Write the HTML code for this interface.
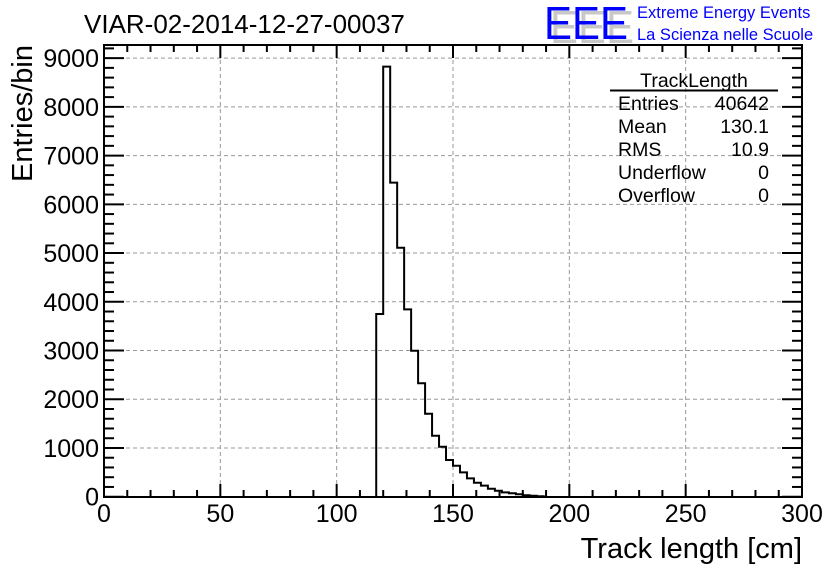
<!DOCTYPE html>
<html><head><meta charset="utf-8"><style>
html,body{margin:0;padding:0;background:#fff;}
svg{display:block;font-family:"Liberation Sans",Arial,sans-serif;}
</style></head><body>
<svg id="s" width="836" height="572" viewBox="0 0 836 572" xmlns="http://www.w3.org/2000/svg">
<rect width="836" height="572" fill="#fff"/>
<g id="grid" stroke="#999" stroke-width="1" stroke-dasharray="4,3"></g>
<g id="stats" font-size="19.5" fill="#000">
<text x="694" y="87" text-anchor="middle">TrackLength</text>
<line x1="610" y1="90.5" x2="778" y2="90.5" stroke="#000" stroke-width="2"/>
<text x="618" y="110">Entries</text><text x="769" y="110" text-anchor="end">40642</text>
<text x="618" y="133">Mean</text><text x="769" y="133" text-anchor="end">130.1</text>
<text x="618" y="156">RMS</text><text x="769" y="156" text-anchor="end">10.9</text>
<text x="618" y="179">Underflow</text><text x="769" y="179" text-anchor="end">0</text>
<text x="618" y="202">Overflow</text><text x="769" y="202" text-anchor="end">0</text>
</g>
<path id="hist" fill="none" stroke="#000" stroke-width="2"/>
<g id="ticks" stroke="#000" stroke-width="2"></g>
<rect x="104" y="45" width="698" height="452" fill="none" stroke="#000" stroke-width="2"/>
<g id="labels" font-size="25" fill="#000"></g>
<text x="84" y="33" font-size="26">VIAR-02-2014-12-27-00037</text>
<text x="550" y="43" font-size="46" fill="#c8c8c8" textLength="84" lengthAdjust="spacingAndGlyphs">EEE</text>
<text x="544" y="39" font-size="46" fill="#0000ff" textLength="84" lengthAdjust="spacingAndGlyphs">EEE</text>
<text x="637" y="18" font-size="16.5" fill="#0000ff">Extreme Energy Events</text>
<text x="637" y="40" font-size="16.5" fill="#0000ff">La Scienza nelle Scuole</text>
<text x="802" y="558" font-size="29" text-anchor="end">Track length [cm]</text>
<text transform="translate(32,45) rotate(-90)" font-size="29" text-anchor="end">Entries/bin</text>
</svg>
<script>
var NS="http://www.w3.org/2000/svg";
function X(v){return 104+v*698/300;}
function Y(v){return 496.7-v*0.04873;}
function el(p,t,a,txt){var e=document.createElementNS(NS,t);for(var k in a)e.setAttribute(k,a[k]);if(txt!==undefined)e.textContent=txt;document.getElementById(p).appendChild(e);}
for(var v=50;v<300;v+=50)el("grid","line",{x1:X(v),y1:46,x2:X(v),y2:496});
for(var v=1000;v<=9000;v+=1000)el("grid","line",{x1:105,y1:Y(v),x2:801,y2:Y(v)});
for(var v=0;v<=300;v+=10){var L=(v%50==0)?13:7;
 el("ticks","line",{x1:X(v),y1:497,x2:X(v),y2:497-L});
 el("ticks","line",{x1:X(v),y1:45,x2:X(v),y2:45+L});}
for(var v=0;v<=9200;v+=200){var y=Y(v);if(y<45)break;var L=(v%1000==0)?20:10;
 el("ticks","line",{x1:104,y1:y,x2:104+L,y2:y});
 el("ticks","line",{x1:802,y1:y,x2:802-L,y2:y});}
for(var v=0;v<=300;v+=50)el("labels","text",{x:X(v),y:522,"text-anchor":"middle"},""+v);
for(var v=0;v<=9000;v+=1000)el("labels","text",{x:99,y:Y(v)+9,"text-anchor":"end"},""+v);
var h=[3750,8825,6445,5110,3845,2996,2327,1703,1252,1026,753,636,500,377,287,226,164,123,90,70,50,30,20,10];
var d="M"+X(117)+","+Y(0);
for(var i=0;i<h.length;i++){var a=117+3*i;d+=" L"+X(a)+","+Y(h[i])+" L"+X(a+3)+","+Y(h[i]);}
d+=" L"+X(117+3*h.length)+","+Y(0);
document.getElementById("hist").setAttribute("d",d);
</script>
</body></html>
